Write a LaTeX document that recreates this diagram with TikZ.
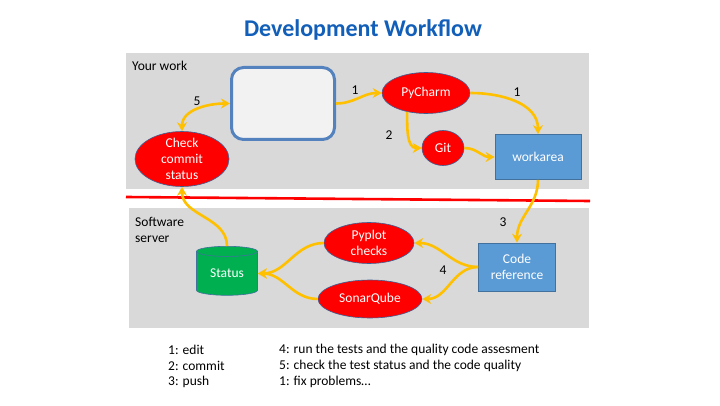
\documentclass[tikz,border=0pt]{standalone}
\usepackage{fontspec}
\setmainfont{Carlito}
\usetikzlibrary{arrows.meta,shapes.geometric}
\definecolor{titleblue}{RGB}{18,95,185}
\definecolor{panelgrey}{RGB}{217,217,217}
\definecolor{flowgold}{RGB}{255,192,0}
\definecolor{ovalred}{RGB}{255,0,0}
\definecolor{ovaledge}{RGB}{60,95,150}
\definecolor{boxblue}{RGB}{91,155,213}
\definecolor{boxedge}{RGB}{65,113,156}
\definecolor{statusgreen}{RGB}{0,176,80}
\definecolor{editfill}{RGB}{242,242,242}
\definecolor{editedge}{RGB}{84,130,190}
\tikzset{
  panel/.style={fill=panelgrey,draw=none},
  redell/.style={ellipse,draw=ovaledge,line width=.6pt,fill=ovalred,text=white,
                 align=center,inner sep=0pt},
  bluebox/.style={rectangle,draw=boxedge,line width=.8pt,fill=boxblue,text=white,
                  align=center,inner sep=0pt},
  editbox/.style={rectangle,rounded corners=12pt,draw=editedge,line width=3pt,
                  fill=editfill},
  dbase/.style={cylinder,shape border rotate=90,aspect=.3,draw=boxedge,
                line width=.6pt,fill=statusgreen,text=white,inner sep=0pt},
  flow/.style={-{Stealth[length=9pt,width=10pt,inset=3pt]},draw=flowgold,
               line width=2.6pt},
  flowboth/.style={flow,{Stealth[length=9pt,width=10pt,inset=3pt]}-{Stealth[length=9pt,width=10pt,inset=3pt]}},
  steplbl/.style={text=black},
  legend/.style={anchor=west,inner xsep=0pt},
}

\begin{document}
\begin{tikzpicture}[x=1pt,y=1pt,font=\fontsize{13.5}{16}\selectfont]
  \fill[white] (0,0) rectangle (720,405);
  \useasboundingbox (0,0) rectangle (720,405);
  \node[text=titleblue,font=\fontsize{24}{28}\selectfont\bfseries] (title) at (363,375)
    {Development Workflow};
  % the two areas and the border between them
  \fill[panel] (126,216) rectangle (589,352);
  \fill[panel] (129,77) rectangle (589,197);
  \draw[red,line width=2.6pt] (126,208) -- (590,204);
  \node[anchor=west,inner xsep=0pt] (yourwork) at (132,339) {Your work};
  \node[anchor=west,align=left,inner xsep=0pt] (server) at (135,175.5) {Software\\server};
  % your work
  \node[editbox,minimum width=103pt,minimum height=72pt] (edit) at (283,301.5) {};
  \node[redell,minimum width=94pt,minimum height=55pt,inner ysep=-4pt] (check) at (182,246)
    {Check\\commit\\status};
  \node[redell,minimum width=88pt,minimum height=41pt] (pycharm) at (426,312) {PyCharm};
  \node[redell,minimum width=42pt,minimum height=35pt] (git) at (443,257) {Git};
  \node[bluebox,minimum width=86pt,minimum height=45pt] (workarea) at (538,248) {workarea};
  % software server
  \node[bluebox,minimum width=77pt,minimum height=48pt] (coderef) at (517,138)
    {Code\\reference};
  \node[redell,minimum width=90pt,minimum height=41pt,inner ysep=-2pt] (pyplot) at (369,162)
    {Pyplot\\checks};
  \node[redell,minimum width=104pt,minimum height=38pt] (sonar) at (370,106) {SonarQube};
  \node[dbase,minimum width=61pt,minimum height=49pt] (status) at (227,131.5) {Status};
  % connectors
  \foreach \a/\b/\o/\i in {edit.east/pycharm.west/0/180,pycharm.east/workarea.north/0/90,
      pycharm.225/git.west/270/180,git.east/workarea.west/0/180,
      workarea.south/coderef.north/270/90,coderef.west/pyplot.east/180/0,
      coderef.west/sonar.east/180/0,pyplot.west/status.east/180/0,
      sonar.west/status.east/180/0,status.north/check.south/90/270}
    {\draw[flow] (\a) to[out=\o,in=\i] (\b);}
  \draw[flowboth] (check.north) to[out=90,in=180] (edit.west);
  \node[steplbl] (n5) at (197,304) {5};
  \node[steplbl] (n1a) at (355,315) {1};
  \node[steplbl] (n2) at (389,270) {2};
  \node[steplbl] (n1b) at (517,313) {1};
  \node[steplbl] (n3) at (503,183) {3};
  \node[steplbl] (n4) at (443,135) {4};
  % legend
  \node[legend] (l1) at (168,55) {1: edit};
  \node[legend] (l2) at (168,39) {2: commit};
  \node[legend] (l3) at (168,23) {3: push};
  \node[legend] (l4) at (279,55) {4: run the tests and the quality code assesment};
  \node[legend] (l5) at (279,39) {5: check the test status and the code quality};
  \node[legend] (l6) at (279,23) {1: fix problems\dots};
\end{tikzpicture}
\end{document}
